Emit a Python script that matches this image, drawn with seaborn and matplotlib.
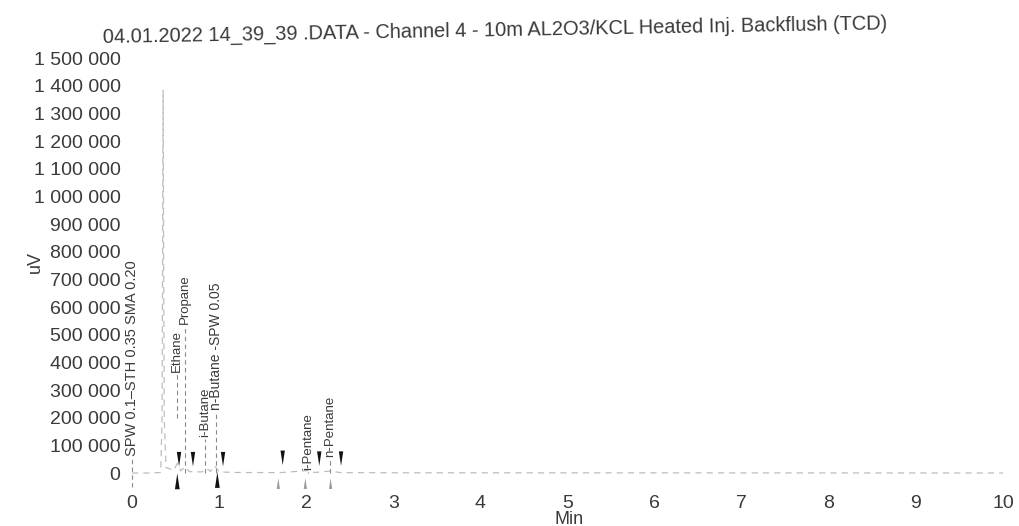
import numpy as np
import pandas as pd
import matplotlib
matplotlib.use("Agg")
import matplotlib.pyplot as plt
from matplotlib.path import Path
from matplotlib.ticker import FuncFormatter
import seaborn as sns

# Detector trace (time in min, signal in uV)
trace_time = [0.00, 0.20, 0.33, 0.345, 0.352, 0.357, 0.362, 0.37, 0.39, 0.48, 0.52, 0.56,
              0.61, 0.66, 0.80, 0.86, 0.90, 0.95, 1.00, 1.20, 1.70, 2.02, 2.10,
              2.27, 2.40, 3.00, 4.00, 5.00, 6.00, 7.00, 8.00, 9.00, 10.00]
trace_signal = [0, 0, 2000, 200000, 900000, 1383000, 900000, 200000, 20000, 10000, 35000, 8000,
                22000, 5000, 4000, 16000, 6000, 26000, 4000, 2000, 1500, 9000, 2000,
                7000, 1500, 1000, 800, 700, 600, 500, 400, 300, 200]

# Peak start / end markers
peak_end_time = [0.54, 0.70, 1.045, 1.73, 2.15, 2.40]
peak_end_level = [50000, 50000, 50000, 55000, 52000, 52000]
peak_start_time = [0.52, 0.98]
peak_start_level = [-30000, -25000]
minor_start_time = [1.68, 1.99, 2.28]
minor_start_level = [-38000, -38000, -38000]

# Peak and event annotations
label_text = ["SPW 0.1\u2013STH 0.35 SMA 0.20", "Ethane", "Propane", "i-Butane",
              "n-Butane -SPW 0.05", "i-Pentane", "n-Pentane"]
label_time = [0.0, 0.52, 0.61, 0.84, 0.97, 2.02, 2.27]
label_base = [60000, 365000, 540000, 130000, 227000, 11000, 58000]
label_size = [10.5, 9.5, 9.5, 9.5, 10, 9.5, 9.5]
leader_low = [-50000, 200000, 0, 0, 0, 0, 0]

y_ticks = list(range(0, 1500001, 100000))
x_ticks = list(range(0, 11))

title = "04.01.2022 14_39_39 .DATA - Channel 4 - 10m AL2O3/KCL Heated Inj. Backflush (TCD)"

sns.set_theme(style="white")
plt.rcParams["font.family"] = ["Liberation Sans", "DejaVu Sans"]

ink = "#3a3a3a"
fig = plt.figure(figsize=(10.2, 5.26), dpi=100)
ax = fig.add_axes([123.3 / 1020, 1 - 493.8 / 526, 888.4 / 1020, 435.8 / 526])

trace = pd.DataFrame({"t": trace_time, "s": trace_signal})
sns.lineplot(data=trace, x="t", y="s", ax=ax, color="#bdbdbd", lw=0.9,
             linestyle=(0, (5, 4)), estimator=None, sort=False)

down_tri = Path([(-0.3, 1.0), (0.3, 1.0), (0.0, -1.0), (-0.3, 1.0)])
up_tri = Path([(-0.3, -1.0), (0.3, -1.0), (0.0, 1.0), (-0.3, -1.0)])

sns.scatterplot(x=peak_end_time, y=peak_end_level, ax=ax, marker=down_tri,
                s=110, color="#111111", edgecolor="none")
sns.scatterplot(x=peak_start_time, y=peak_start_level, ax=ax, marker=up_tri,
                s=130, color="#111111", edgecolor="none")
sns.scatterplot(x=minor_start_time, y=minor_start_level, ax=ax, marker=up_tri,
                s=60, color="#9a9a9a", edgecolor="none")

for txt, t, base, size, low in zip(label_text, label_time, label_base, label_size, leader_low):
    ax.text(t, base, txt, rotation=90, ha="center", va="bottom",
            fontsize=size, color=ink)
    ax.plot([t, t], [low, base - 8000], color="#8a8a8a", lw=0.8,
            linestyle=(0, (4, 3)))

ax.set_xlim(-0.1, 10.1)
ax.set_ylim(-75000, 1500000)
ax.set_xticks(x_ticks)
ax.set_yticks(y_ticks)
ax.yaxis.set_major_formatter(FuncFormatter(lambda v, p: f"{int(v):,}".replace(",", " ")))
ax.tick_params(axis="both", length=0, labelsize=14, colors=ink)
ax.tick_params(axis="x", pad=1)
ax.tick_params(axis="y", pad=2)
ax.set_xlabel("")
ax.set_ylabel("")
sns.despine(ax=ax, left=True, bottom=True)

fig.text(569 / 1020, 1 - 519 / 526, "Min", ha="center", va="center",
         fontsize=13, color=ink)
fig.text(35 / 1020, 1 - 262 / 526, "uV", ha="center", va="center",
         rotation=90, fontsize=13, color=ink)
fig.text(495 / 1020, 1 - 31 / 526, title, ha="center", va="center",
         fontsize=14.4, color=ink, rotation=1.0)

fig.savefig("out.png", dpi=100)
